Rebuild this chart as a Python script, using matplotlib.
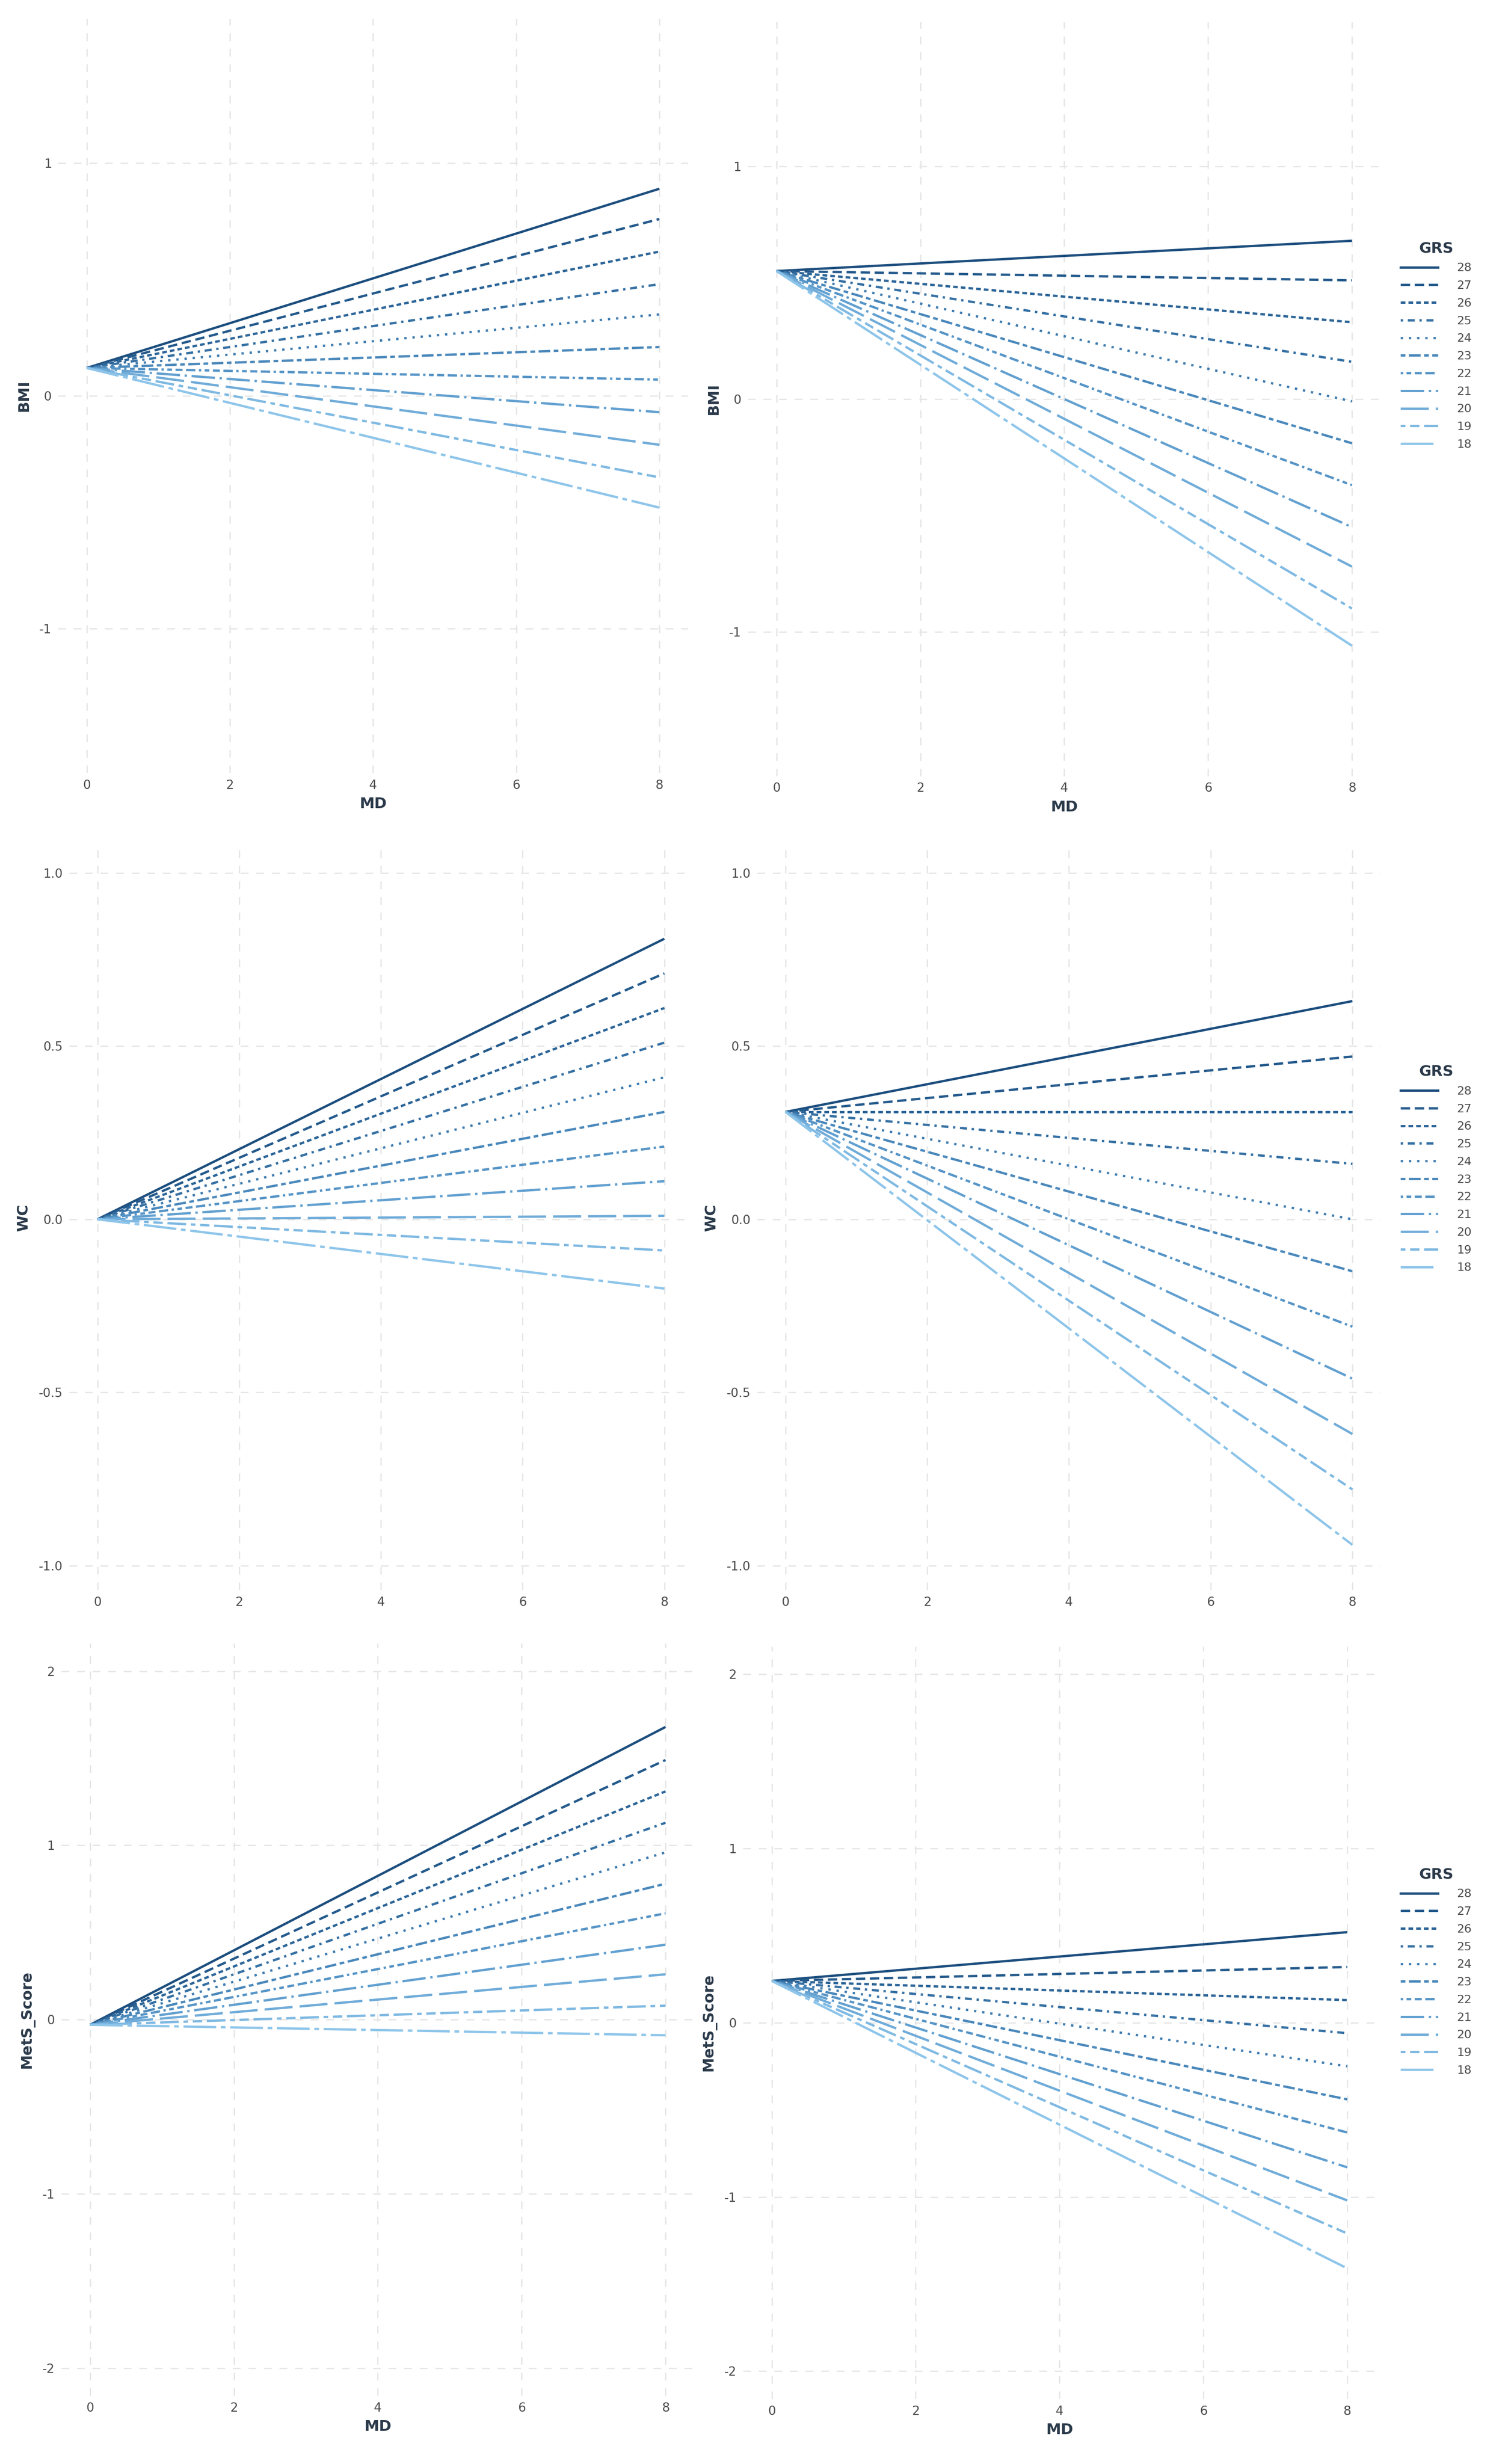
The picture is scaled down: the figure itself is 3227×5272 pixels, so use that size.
import numpy as np
import matplotlib.pyplot as plt
from matplotlib.lines import Line2D

# GRS levels and line end values at MD = 8 (lines start at the intercept at MD = 0)
grs = [28, 27, 26, 25, 24, 23, 22, 21, 20, 19, 18]
md = [0, 8]

bmi_left_start = 0.12
bmi_left_end = [0.89, 0.76, 0.62, 0.48, 0.35, 0.21, 0.07, -0.07, -0.21, -0.35, -0.48]
bmi_right_start = 0.55
bmi_right_end = [0.68, 0.51, 0.33, 0.16, -0.01, -0.19, -0.37, -0.55, -0.72, -0.90, -1.06]

wc_left_start = 0.0
wc_left_end = [0.81, 0.71, 0.61, 0.51, 0.41, 0.31, 0.21, 0.11, 0.01, -0.09, -0.20]
wc_right_start = 0.31
wc_right_end = [0.63, 0.47, 0.31, 0.16, 0.00, -0.15, -0.31, -0.46, -0.62, -0.78, -0.94]

mets_left_start = -0.03
mets_left_end = [1.68, 1.49, 1.31, 1.13, 0.96, 0.78, 0.61, 0.43, 0.26, 0.08, -0.09]
mets_right_start = 0.24
mets_right_end = [0.52, 0.32, 0.13, -0.06, -0.25, -0.44, -0.63, -0.83, -1.02, -1.21, -1.41]

colors = ['#1c4e7e', '#245a8c', '#2c6598', '#3570a3', '#3f7cb0', '#4a88bb',
          '#5694c6', '#62a0d0', '#70acd9', '#7fb9e2', '#8ec5ea']
dashes = [None, (4, 2), (2, 1.3), (1, 2, 3, 2), (1, 2.5), (2, 1.5, 5, 1.5),
          (1, 1.5, 2, 1.5, 3, 1.5, 4, 1.5), (10, 2, 1, 2), (12, 3), (2, 2, 4, 2, 8, 2),
          (14, 2, 2, 2)]

W, H = 3227, 5272
fig = plt.figure(figsize=(W / 100, H / 100), dpi=100)
s = W / 960.0  # reference display scale

def add_ax(x0, x1, y0, y1):
    return fig.add_axes([x0 * s / W, 1 - y1 * s / H, (x1 - x0) * s / W, (y1 - y0) * s / H])

panels = [
    (add_ax(37, 438, 12, 492), 'BMI', bmi_left_start, bmi_left_end, (-1.62, 1.62), [-1, 0, 1], ['-1', '0', '1'], True),
    (add_ax(476, 879, 14, 494), 'BMI', bmi_right_start, bmi_right_end, (-1.62, 1.62), [-1, 0, 1], ['-1', '0', '1'], True),
    (add_ax(44, 441, 538, 1012), 'WC', wc_left_start, wc_left_end, (-1.07, 1.08), [-1, -0.5, 0, 0.5, 1], ['-1.0', '-0.5', '0.0', '0.5', '1.0'], False),
    (add_ax(482, 879, 538, 1012), 'WC', wc_right_start, wc_right_end, (-1.07, 1.08), [-1, -0.5, 0, 0.5, 1], ['-1.0', '-0.5', '0.0', '0.5', '1.0'], False),
    (add_ax(39, 442, 1046, 1525), 'MetS_Score', mets_left_start, mets_left_end, (-2.16, 2.16), [-2, -1, 0, 1, 2], ['-2', '-1', '0', '1', '2'], True),
    (add_ax(473, 876, 1048, 1527), 'MetS_Score', mets_right_start, mets_right_end, (-2.16, 2.16), [-2, -1, 0, 1, 2], ['-2', '-1', '0', '1', '2'], True),
]

text_col = '#4d4d4d'
for ax, ylab, start, ends, ylim, yt, ytl, show_xlab in panels:
    for g, e, c, d in zip(grs, ends, colors, dashes):
        ln, = ax.plot(md, [start, e], color=c, lw=3.6, solid_capstyle='butt')
        if d is not None:
            ln.set_dashes(d)
    ax.set_xlim(-0.4, 8.4)
    ax.set_ylim(*ylim)
    ax.set_xticks([0, 2, 4, 6, 8])
    ax.set_yticks(yt)
    ax.set_yticklabels(ytl)
    ax.grid(True, color='#e6e6e6', linestyle=(0, (6, 6)), lw=2)
    for sp in ax.spines.values():
        sp.set_visible(False)
    ax.tick_params(length=0, labelsize=19, labelcolor=text_col, pad=10)
    ax.set_ylabel(ylab, fontsize=23, fontweight='bold', color='#2b3a4a', labelpad=12)
    if show_xlab:
        ax.set_xlabel('MD', fontsize=23, fontweight='bold', color='#2b3a4a', labelpad=8)

handles = []
for c, d in zip(colors, dashes):
    h = Line2D([0], [0], color=c, lw=3.6)
    if d is not None:
        h.set_dashes(d)
    handles.append(h)

for ytitle in [159, 683, 1194]:
    leg = fig.legend(handles, [str(g) for g in grs], title='GRS',
                     loc='upper left', bbox_to_anchor=(885 * s / W, 1 - (ytitle - 12) * s / H),
                     frameon=False, fontsize=18, title_fontproperties={'size': 23, 'weight': 'bold'},
                     handlelength=3.2, labelspacing=0.55, handletextpad=1.6)
    leg.get_title().set_color('#2b3a4a')
    for t in leg.get_texts():
        t.set_color(text_col)

fig.savefig('out.png', dpi=100, facecolor='white')
